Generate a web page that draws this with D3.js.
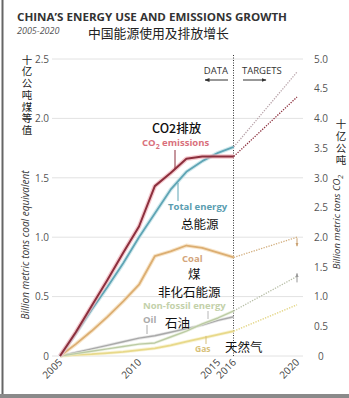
<!DOCTYPE html>
<html><head><meta charset="utf-8">
<script src="https://cdn.jsdelivr.net/npm/d3@7"></script>
<style>
html,body{margin:0;padding:0;background:#fff;}
svg{display:block;}
text{font-family:"Open Sans",sans-serif;}
.cjk{font-family:"Noto Sans CJK SC",sans-serif;}
.vert{writing-mode:vertical-rl;text-orientation:upright;}
</style></head>
<body>
<script>
// ---- data (left axis: billion metric tons coal equivalent, change since 2005) ----
const years = [2005,2006,2007,2008,2009,2010,2011,2012,2013,2014,2015,2016];
const co2Emissions = [0,0.20,0.42,0.64,0.87,1.09,1.43,1.54,1.66,1.68,1.68,1.68];
const totalEnergy  = [0,0.19,0.39,0.58,0.78,1.00,1.20,1.40,1.55,1.64,1.71,1.76];
const coal         = [0,0.10,0.21,0.33,0.46,0.60,0.84,0.88,0.93,0.91,0.87,0.83];
const nonFossil    = [0,0.02,0.04,0.06,0.08,0.10,0.11,0.16,0.21,0.27,0.32,0.38];
const oil          = [0,0.03,0.06,0.09,0.12,0.15,0.17,0.20,0.23,0.26,0.30,0.33];
const gas          = [0,0.01,0.015,0.025,0.035,0.05,0.065,0.09,0.12,0.15,0.18,0.21];
// targets 2016 -> 2020
const targetYears = [2016,2020];
const totalEnergyTarget = [1.76,2.39];
const co2Target         = [1.68,2.18];
const coalTarget        = [0.83,1.00];
const nonFossilTarget   = [0.38,0.67];
const gasTarget         = [0.21,0.43];
// axes
const leftTicks  = [0,0.5,1.0,1.5,2.0,2.5];
const rightTicks = [0,0.5,1.0,1.5,2.0,2.5,3.0,3.5,4.0,4.5,5.0];
const xTickYears = [2005,2010,2015,2016,2020];

const W=349,H=398;
const svg=d3.select("body").append("svg").attr("width",W).attr("height",H);

const x=d3.scaleLinear().domain([2005,2020]).range([60,297]);
const yL=d3.scaleLinear().domain([0,2.5]).range([356,59]);
const yR=d3.scaleLinear().domain([0,5]).range([356,59]);

// frame
svg.append("line").attr("x1",2.5).attr("x2",2.5).attr("y1",0).attr("y2",H).attr("stroke","#666").attr("stroke-width",2);
svg.append("rect").attr("x",0).attr("y",394).attr("width",W).attr("height",4).attr("fill","#8a8a8a");

// title
svg.append("text").attr("x",17).attr("y",20.5).attr("font-size",10.5).attr("font-weight",700)
  .attr("fill","#333").attr("textLength",270).attr("lengthAdjust","spacingAndGlyphs")
  .text("CHINA\u2019S ENERGY USE AND EMISSIONS GROWTH");
svg.append("text").attr("x",17).attr("y",34).attr("font-size",9).attr("font-style","italic")
  .attr("fill","#555").text("2005-2020");
svg.append("text").attr("class","cjk").attr("x",88).attr("y",37.5).attr("font-size",12.8)
  .attr("fill","#222").text("中国能源使用及排放增长");

// gridlines
svg.append("g").selectAll("line").data(leftTicks).join("line")
  .attr("x1",52).attr("x2",303).attr("y1",d=>yL(d)).attr("y2",d=>yL(d))
  .attr("stroke","#e2e2e2").attr("stroke-width",1);

// left axis
const gL=svg.append("g").attr("transform","translate(50,0)")
  .call(d3.axisLeft(yL).tickValues(leftTicks).tickSize(0).tickPadding(1)
  .tickFormat(d=>d===0?"0":d3.format(".1f")(d)));
gL.select(".domain").remove();
gL.selectAll("text").attr("font-size",10).attr("fill","#555").attr("font-family","Open Sans");

// right axis
const gR=svg.append("g").attr("transform","translate(313,0)")
  .call(d3.axisRight(yR).tickValues(rightTicks).tickSize(0).tickPadding(1)
  .tickFormat(d=>d===0?"0":d3.format(".1f")(d)));
gR.select(".domain").remove();
gR.selectAll("text").attr("font-size",10).attr("fill","#555").attr("font-family","Open Sans");
gR.selectAll(".tick").filter(d=>d===0).select("text").attr("dx",4);

// x labels
svg.append("g").selectAll("text").data(xTickYears).join("text")
  .attr("transform",d=>`translate(${x(d)+3},363) rotate(-45)`)
  .attr("text-anchor","end").attr("font-size",10).attr("fill","#444").text(d=>d);

// axis titles (vertical CJK, single text in vertical writing mode)
function vertCJK(chars,xx,y0,size,spacing){
  svg.append("text").attr("class","cjk vert").attr("x",xx).attr("y",y0)
    .attr("font-size",size).attr("letter-spacing",spacing).attr("fill","#222").text(chars);
}
vertCJK("十亿公吨煤等值",27,54.5,10.5,1.2);
svg.append("text").attr("transform","translate(29,245) rotate(-90)").attr("text-anchor","middle")
  .attr("font-size",10).attr("font-style","italic").attr("fill","#333")
  .text("Billion metric tons coal equivalent");
vertCJK("十亿公吨",341,118.5,10.5,1.5);
const rt=svg.append("text").attr("transform","translate(340,222) rotate(-90)").attr("text-anchor","middle")
  .attr("font-size",9.5).attr("font-style","italic").attr("fill","#333");
rt.append("tspan").text("Billion metric tons CO");
rt.append("tspan").attr("font-size",7).attr("dy",2.5).text("2");

// DATA / TARGETS
svg.append("line").attr("x1",233.5).attr("x2",233.5).attr("y1",55).attr("y2",356)
  .attr("stroke","#333").attr("stroke-width",1).attr("stroke-dasharray","1,1.5");
svg.append("text").attr("x",228).attr("y",74).attr("text-anchor","end").attr("font-size",9.5).attr("fill","#333").text("DATA");
svg.append("text").attr("x",242).attr("y",74).attr("font-size",9.5).attr("fill","#333").text("TARGETS");
const defs=svg.append("defs");
defs.append("marker").attr("id","ah").attr("viewBox","0 0 10 10").attr("refX",9).attr("refY",5)
  .attr("markerWidth",5).attr("markerHeight",5).attr("orient","auto-start-reverse")
  .append("path").attr("d","M0,1L10,5L0,9Z").attr("fill","#333");
svg.append("line").attr("x1",243).attr("x2",266).attr("y1",80).attr("y2",80).attr("stroke","#333").attr("stroke-width",1).attr("marker-end","url(#ah)");
svg.append("line").attr("x1",228).attr("x2",205).attr("y1",80).attr("y2",80).attr("stroke","#333").attr("stroke-width",1).attr("marker-end","url(#ah)");

// lines
const line=d3.line().x((d,i)=>x(years[i])).y(d=>yL(d));
const tline=d3.line().x((d,i)=>x(targetYears[i])).y(d=>yL(d));
function series(vals,col,w,halo,hw){
  if(halo) svg.append("path").attr("d",line(vals)).attr("fill","none").attr("stroke",halo).attr("stroke-width",hw).attr("stroke-linejoin","round").attr("opacity",0.7);
  svg.append("path").attr("d",line(vals)).attr("fill","none").attr("stroke",col).attr("stroke-width",w).attr("stroke-linejoin","round");
}
function target(vals,col,w){
  svg.append("path").attr("d",tline(vals)).attr("fill","none").attr("stroke",col).attr("stroke-width",w).attr("stroke-dasharray","1.3,1.3");
}
series(gas,"#e8d98a",1.8,"#f6efc8",3.5);
series(oil,"#a9a9a9",1.4,"#dcdcdc",3);
series(nonFossil,"#bccba4",1.4,"#e4ecd6",3);
series(coal,"#dcae72",1.8,"#f5dcb5",4);
series(totalEnergy,"#5fa5b5",1.8,"#bfe0e6",4);
series(co2Emissions,"#8c2f3d",2,"#f1b3ba",4.5);

target(gasTarget,"#e2d37e",1.3);
target(nonFossilTarget,"#b8bfa8",1.3);
target(coalTarget,"#d2ae7e",1.3);
target(totalEnergyTarget,"#b8a4aa",1.3);
target(co2Target,"#8c2f3d",1.3);

// small arrows at 2020
defs.append("marker").attr("id","ahc").attr("viewBox","0 0 10 10").attr("refX",9).attr("refY",5)
  .attr("markerWidth",4).attr("markerHeight",4).attr("orient","auto")
  .append("path").attr("d","M0,1L10,5L0,9Z").attr("fill","#c9a070");
defs.append("marker").attr("id","ahn").attr("viewBox","0 0 10 10").attr("refX",9).attr("refY",5)
  .attr("markerWidth",4).attr("markerHeight",4).attr("orient","auto")
  .append("path").attr("d","M0,1L10,5L0,9Z").attr("fill","#999");
svg.append("line").attr("x1",x(2020)).attr("x2",x(2020)).attr("y1",yL(coalTarget[1])+1).attr("y2",yL(coalTarget[1])+9)
  .attr("stroke","#c9a070").attr("stroke-width",1).attr("marker-end","url(#ahc)");
svg.append("line").attr("x1",x(2020)).attr("x2",x(2020)).attr("y1",yL(nonFossilTarget[1])+6).attr("y2",yL(nonFossilTarget[1])-3)
  .attr("stroke","#999").attr("stroke-width",1).attr("marker-end","url(#ahn)");

// labels
function lab(t,xx,yy,size,col,weight,cls){
  return svg.append("text").attr("x",xx).attr("y",yy).attr("font-size",size).attr("fill",col)
    .attr("font-weight",weight||400).attr("class",cls||null).text(t);
}
function leader(xx,y1,y2,col){
  svg.append("line").attr("x1",xx).attr("x2",xx).attr("y1",y1).attr("y2",y2).attr("stroke",col).attr("stroke-width",1);
}
lab("CO2排放",152,133,12.5,"#111",500,"cjk");
const ce=svg.append("text").attr("x",142).attr("y",146).attr("font-size",9.5).attr("font-weight",700).attr("fill","#d9707c");
ce.append("tspan").text("CO");
ce.append("tspan").attr("font-size",7).attr("dy",2.5).text("2");
ce.append("tspan").attr("dy",-2.5).text(" emissions");
leader(175,150,169,"#8c2f3d");

lab("Total energy",168,210,9.5,"#5a9db0",700);
leader(178,183,201,"#5fa5b5");
lab("总能源",181,229,12.5,"#111",400,"cjk");

lab("Coal",182,262,9.5,"#d3a57c",700);
lab("煤",188,278.5,12.5,"#111",400,"cjk");
lab("非化石能源",158,296.5,12.5,"#111",400,"cjk");
lab("Non-fossil energy",143,309,9.5,"#c3d1aa",700);
leader(208,311,319,"#b8b8b8");
lab("Oil",143,323,9.5,"#aaaaaa",700);
leader(147,325,334,"#aaaaaa");
lab("石油",165,328,12.5,"#111",400,"cjk");
lab("Gas",195,352,8.5,"#d7bf78",700);
leader(206,336,344,"#d7bf78");
lab("天然气",225,352,12.5,"#111",400,"cjk");
</script>
</body></html>
